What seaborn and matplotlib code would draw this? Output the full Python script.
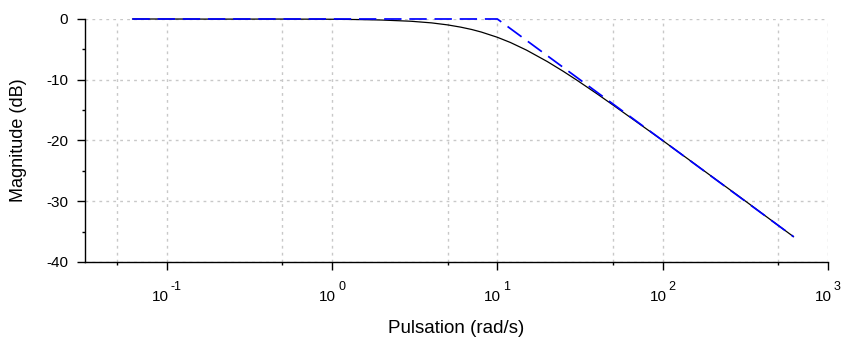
import numpy as np
import pandas as pd
import matplotlib
matplotlib.use("Agg")
import matplotlib.pyplot as plt
import matplotlib.ticker as mticker
import seaborn as sns

# Exact magnitude curve
freq = [0.062, 0.1, 0.2, 0.5, 1.0, 1.5, 2.0, 3.0, 4.0, 5.0, 6.0, 7.0, 8.0, 10.0,
        12.0, 15.0, 20.0, 25.0, 30.0, 40.0, 50.0, 70.0, 100.0, 150.0, 200.0,
        300.0, 500.0, 620.0]
mag_db = [0.0, 0.0, -0.02, -0.01, -0.04, -0.1, -0.17, -0.37, -0.64, -0.97,
          -1.34, -1.73, -2.15, -3.01, -3.87, -5.12, -6.99, -8.6, -10.0, -12.3,
          -14.15, -16.99, -20.0, -23.5, -26.0, -29.5, -33.98, -35.85]

# Asymptotic approximation
asym_freq = [0.062, 10.0, 620.0]
asym_db = [0.0, 0.0, -35.85]

x_ticks = [0.1, 1, 10, 100, 1000]
x_tick_exps = ["-1", "0", "1", "2", "3"]
y_ticks = [0, -10, -20, -30, -40]

sns.set_theme(style="white")
plt.rcParams["font.family"] = ["Liberation Sans", "DejaVu Sans"]

df = pd.DataFrame({"freq": freq, "mag": mag_db})
df_a = pd.DataFrame({"freq": asym_freq, "mag": asym_db})

fig = plt.figure(figsize=(8.41, 3.38), dpi=100)
ax = fig.add_axes([0.101, 0.2249, 0.8835, 0.7189])

sns.lineplot(data=df, x="freq", y="mag", ax=ax, color="black", linewidth=0.9,
             sort=False, estimator=None, zorder=3)
sns.lineplot(data=df_a, x="freq", y="mag", ax=ax, color="#0000ff", linewidth=1.25,
             sort=False, estimator=None, zorder=4)
ax.lines[-1].set_dashes([10, 4.5])
for ln in ax.lines:
    ln.set_clip_on(False)

ax.set_xscale("log")
ax.set_xlim(0.032, 1000)
ax.set_ylim(-40, 0)

ax.set_xticks(x_ticks)
ax.set_xticklabels([""] * len(x_ticks))
ax.xaxis.set_minor_locator(mticker.FixedLocator([0.05, 0.5, 5, 50, 500]))
ax.xaxis.set_minor_formatter(mticker.NullFormatter())
ax.set_yticks(y_ticks)
ax.set_yticklabels([str(v) for v in y_ticks])
ax.yaxis.set_minor_locator(mticker.FixedLocator([-5, -15, -25, -35]))

ax.tick_params(axis="both", which="major", direction="out", length=6, width=1,
               color="black", labelcolor="black", bottom=True, left=True)
ax.tick_params(axis="both", which="minor", direction="out", length=2.5, width=1,
               color="black", bottom=True, left=True)
ax.tick_params(axis="y", which="major", labelsize=11, pad=6)

# x tick labels as "10" with raised exponent
big, small = 11.0, 9.0
for t, e in zip(x_ticks, x_tick_exps):
    w10 = 2 * 0.556 * big
    we = sum(0.333 if c == "-" else 0.556 for c in e) * small
    gap = 1.5
    left = -(w10 + gap + we) / 2
    ax.annotate("10", xy=(t, 0), xycoords=("data", "axes fraction"),
                xytext=(left + w10, -28.0), textcoords="offset points",
                ha="right", va="baseline", fontsize=big, color="black",
                annotation_clip=False)
    ax.annotate(e, xy=(t, 0), xycoords=("data", "axes fraction"),
                xytext=(left + w10 + gap, -20.2), textcoords="offset points",
                ha="left", va="baseline", fontsize=small, color="black",
                annotation_clip=False)

ax.grid(True, which="major", axis="both", color="#c8c8c8", linestyle=(0, (2, 3)), linewidth=1)
ax.grid(True, which="minor", axis="x", color="#c8c8c8", linestyle=(0, (2, 3)), linewidth=1)

for s in ["top", "right"]:
    ax.spines[s].set_visible(False)
for s in ["left", "bottom"]:
    ax.spines[s].set_color("black")
    ax.spines[s].set_linewidth(1)

ax.set_xlabel("Pulsation (rad/s)", fontsize=13.5, color="black", va="center")
ax.set_ylabel("Magnitude (dB)", fontsize=13, color="black", va="center")
ax.xaxis.set_label_coords(0.5, -0.275)
ax.yaxis.set_label_coords(-0.090, 0.5)

fig.savefig("out.png", dpi=100)
